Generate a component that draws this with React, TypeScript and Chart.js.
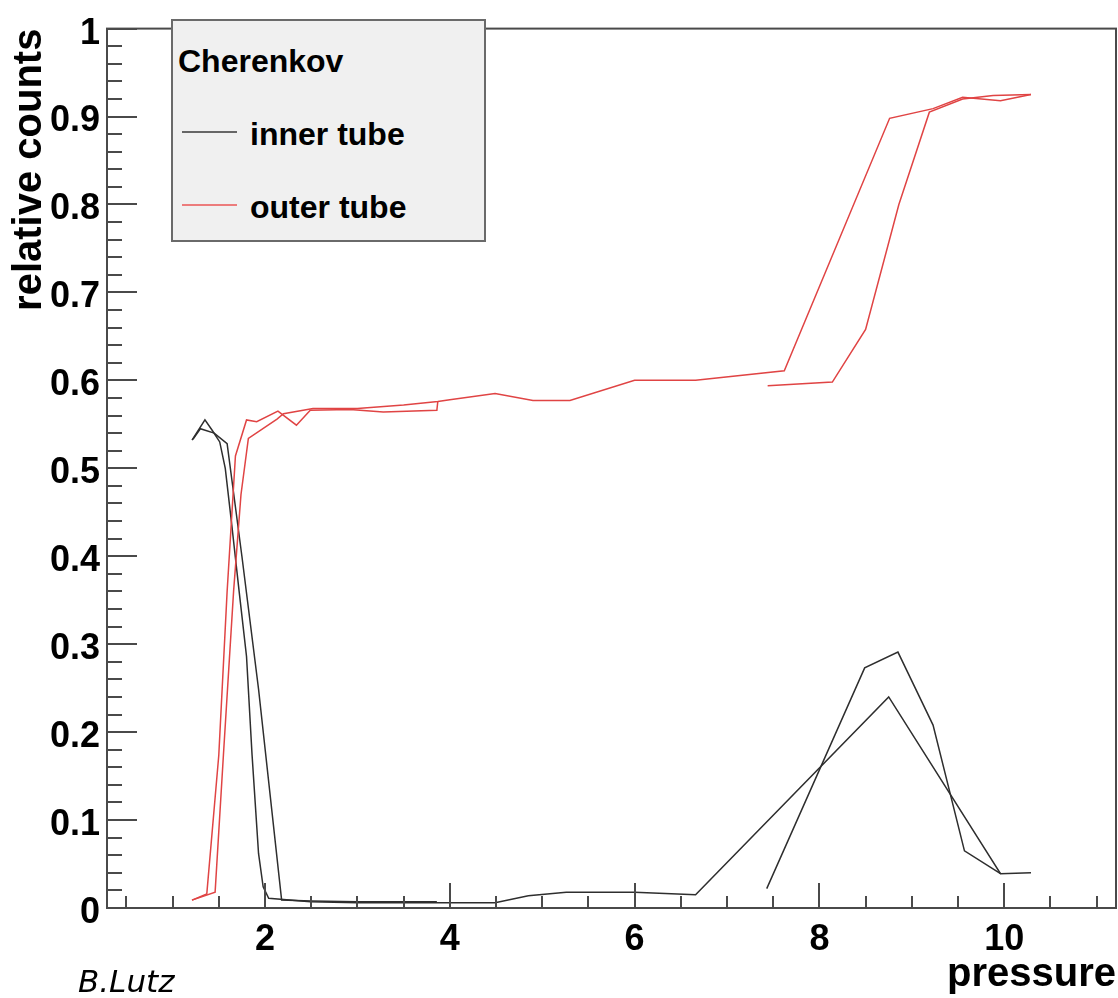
import React, { useEffect, useRef } from 'react';
import { Chart, registerables } from 'chart.js';

Chart.register(...registerables);

// axis ranges and tick labels
const xRange = [0.29, 11.21];
const yRange = [0, 1];
const xTickValues = [2, 4, 6, 8, 10];
const yTickValues = [0, 0.1, 0.2, 0.3, 0.4, 0.5, 0.6, 0.7, 0.8, 0.9, 1];

// inner tube, scan 1 (full pressure range)
const innerScan1Pressure = [1.21, 1.35, 1.43, 1.51, 1.57, 1.64, 1.72, 1.8, 1.86, 1.93, 1.98, 2.04, 2.49, 3.0, 3.5, 4.0, 4.49, 4.85, 5.26, 6.0, 6.66, 8.75, 9.96, 10.29];
const innerScan1Counts = [0.532, 0.555, 0.543, 0.53, 0.5, 0.436, 0.36, 0.286, 0.174, 0.062, 0.024, 0.011, 0.007, 0.006, 0.006, 0.006, 0.006, 0.014, 0.018, 0.018, 0.015, 0.24, 0.039, 0.04];

// inner tube, scan 2 (two pressure windows)
const innerScan2LowPressure = [1.22, 1.3, 1.45, 1.59, 1.75, 1.93, 2.18, 2.5, 3.0, 3.5, 3.86];
const innerScan2LowCounts = [0.533, 0.545, 0.54, 0.528, 0.4, 0.249, 0.009, 0.008, 0.007, 0.007, 0.007];
const innerScan2HighPressure = [7.43, 8.49, 8.85, 9.23, 9.57, 9.96];
const innerScan2HighCounts = [0.022, 0.273, 0.291, 0.208, 0.065, 0.039];

// outer tube, scan 1 (full pressure range)
const outerScan1Pressure = [1.21, 1.46, 1.55, 1.66, 1.74, 1.82, 2.13, 2.2, 2.52, 3.0, 3.5, 3.87, 4.0, 4.49, 4.9, 5.3, 6.0, 6.66, 7.62, 8.76, 9.23, 9.55, 9.96, 10.29];
const outerScan1Counts = [0.009, 0.018, 0.174, 0.36, 0.47, 0.534, 0.556, 0.562, 0.568, 0.568, 0.572, 0.576, 0.578, 0.585, 0.577, 0.577, 0.6, 0.6, 0.611, 0.898, 0.909, 0.922, 0.918, 0.925];

// outer tube, scan 2 (two pressure windows)
const outerScan2LowPressure = [1.21, 1.37, 1.5, 1.59, 1.68, 1.8, 1.91, 2.14, 2.34, 2.49, 2.92, 3.28, 3.86, 3.87];
const outerScan2LowCounts = [0.009, 0.016, 0.174, 0.36, 0.514, 0.555, 0.553, 0.565, 0.549, 0.566, 0.567, 0.564, 0.566, 0.576];
const outerScan2HighPressure = [7.44, 8.14, 8.5, 8.86, 9.19, 9.55, 9.88, 10.29];
const outerScan2HighCounts = [0.594, 0.598, 0.658, 0.8, 0.905, 0.92, 0.924, 0.925];

const FONT = "'Liberation Sans', Arial, Helvetica, sans-serif";
const INNER_COLOR = '#2e2e2e';
const OUTER_COLOR = '#e04444';

const toPoints = (xs: number[], ys: number[]) => xs.map((x, i) => ({ x, y: ys[i] }));

const line = (label: string, xs: number[], ys: number[], color: string) => ({
  label,
  data: toPoints(xs, ys),
  borderColor: color,
  backgroundColor: color,
  borderWidth: 1.5,
  pointRadius: 0,
  tension: 0,
  fill: false,
});

const framePlugin = {
  id: 'rootFrame',
  afterDatasetsDraw(chart: any) {
    const { ctx, chartArea: a, scales } = chart;
    const x = scales.x;
    const y = scales.y;
    ctx.save();
    ctx.strokeStyle = '#4a4a4a';
    ctx.lineWidth = 2;
    ctx.strokeRect(a.left, a.top, a.right - a.left, a.bottom - a.top);
    ctx.beginPath();
    for (let i = 0; i <= 50; i++) {
      const v = i * 0.02;
      const py = Math.round(y.getPixelForValue(v));
      const len = i % 5 === 0 ? 30 : 15;
      ctx.moveTo(a.left, py);
      ctx.lineTo(a.left + len, py);
    }
    for (let k = 1; k <= 22; k++) {
      const v = k * 0.5;
      const px = Math.round(x.getPixelForValue(v));
      const len = k % 4 === 0 ? 25 : 12;
      ctx.moveTo(px, a.bottom);
      ctx.lineTo(px, a.bottom - len);
    }
    ctx.stroke();
    ctx.restore();
  },
};

export default function App() {
  const canvasRef = useRef<HTMLCanvasElement | null>(null);

  useEffect(() => {
    if (!canvasRef.current) return;
    const chart = new Chart(canvasRef.current, {
      type: 'line',
      data: {
        datasets: [
          line('outer tube', outerScan1Pressure, outerScan1Counts, OUTER_COLOR),
          line('outer tube 2a', outerScan2LowPressure, outerScan2LowCounts, OUTER_COLOR),
          line('outer tube 2b', outerScan2HighPressure, outerScan2HighCounts, OUTER_COLOR),
          line('inner tube', innerScan1Pressure, innerScan1Counts, INNER_COLOR),
          line('inner tube 2a', innerScan2LowPressure, innerScan2LowCounts, INNER_COLOR),
          line('inner tube 2b', innerScan2HighPressure, innerScan2HighCounts, INNER_COLOR),
        ],
      },
      options: {
        responsive: false,
        animation: false,
        devicePixelRatio: 1,
        layout: { padding: { top: 20, right: 2, left: 0, bottom: 0 } },
        plugins: { legend: { display: false }, tooltip: { enabled: false } },
        scales: {
          x: {
            type: 'linear',
            min: xRange[0],
            max: xRange[1],
            grid: { display: false, drawTicks: false },
            border: { display: false },
            afterBuildTicks: (s: any) => {
              s.ticks = xTickValues.map((v) => ({ value: v }));
            },
            afterFit: (s: any) => {
              s.height = 90;
            },
            ticks: {
              autoSkip: false,
              maxRotation: 0,
              padding: 10,
              color: '#000',
              font: { family: FONT, size: 36, weight: 'bold' },
              callback: (v: any) => String(v),
            },
            title: {
              display: true,
              text: 'pressure',
              align: 'end',
              color: '#000',
              font: { family: FONT, size: 40, weight: 'bold', lineHeight: 1.2 },
              padding: { top: 0, bottom: -1 },
            },
          },
          y: {
            type: 'linear',
            min: yRange[0],
            max: yRange[1],
            grid: { display: false, drawTicks: false },
            border: { display: false },
            afterBuildTicks: (s: any) => {
              s.ticks = yTickValues.map((v) => ({ value: v }));
            },
            afterFit: (s: any) => {
              s.width = 107;
            },
            ticks: {
              autoSkip: false,
              padding: 7,
              labelOffset: 5,
              color: '#000',
              font: { family: FONT, size: 36, weight: 'bold' },
              callback: (v: any) => (v === 0 ? '0' : v === 1 ? '1' : Number(v).toFixed(1)),
            },
            title: {
              display: true,
              text: 'relative counts',
              align: 'end',
              color: '#000',
              font: { family: FONT, size: 40, weight: 'bold', lineHeight: 1.2 },
              padding: { top: 6, bottom: 0 },
            },
          },
        },
      },
      plugins: [framePlugin],
    } as any);
    return () => chart.destroy();
  }, []);

  const legendText: React.CSSProperties = {
    position: 'absolute',
    fontFamily: FONT,
    fontWeight: 'bold',
    fontSize: 32,
    lineHeight: '32px',
    whiteSpace: 'nowrap',
    color: '#000',
  };

  return (
    <div style={{ position: 'absolute', left: 0, top: 0, width: 1118, height: 998, background: '#fff' }}>
      <canvas ref={canvasRef} width={1118} height={998} style={{ position: 'absolute', left: 0, top: 0 }} />
      <div
        style={{
          position: 'absolute',
          left: 171,
          top: 19,
          width: 315,
          height: 223,
          boxSizing: 'border-box',
          background: '#f0f0f0',
          border: '2px solid #6a6a6a',
        }}
      />
      <div style={{ ...legendText, left: 178, top: 45 }}>Cherenkov</div>
      <div style={{ position: 'absolute', left: 182, top: 131, width: 55, height: 2, background: '#666' }} />
      <div style={{ ...legendText, left: 250, top: 118 }}>inner tube</div>
      <div style={{ position: 'absolute', left: 182, top: 204, width: 55, height: 2, background: '#ec7c7c' }} />
      <div style={{ ...legendText, left: 250, top: 191 }}>outer tube</div>
      <div
        style={{
          position: 'absolute',
          left: 78,
          top: 966,
          fontFamily: "'DejaVu Sans', Verdana, sans-serif",
          fontStyle: 'italic',
          fontSize: 31,
          lineHeight: '31px',
          whiteSpace: 'nowrap',
          color: '#000',
        }}
      >
        B.Lutz
      </div>
    </div>
  );
}
